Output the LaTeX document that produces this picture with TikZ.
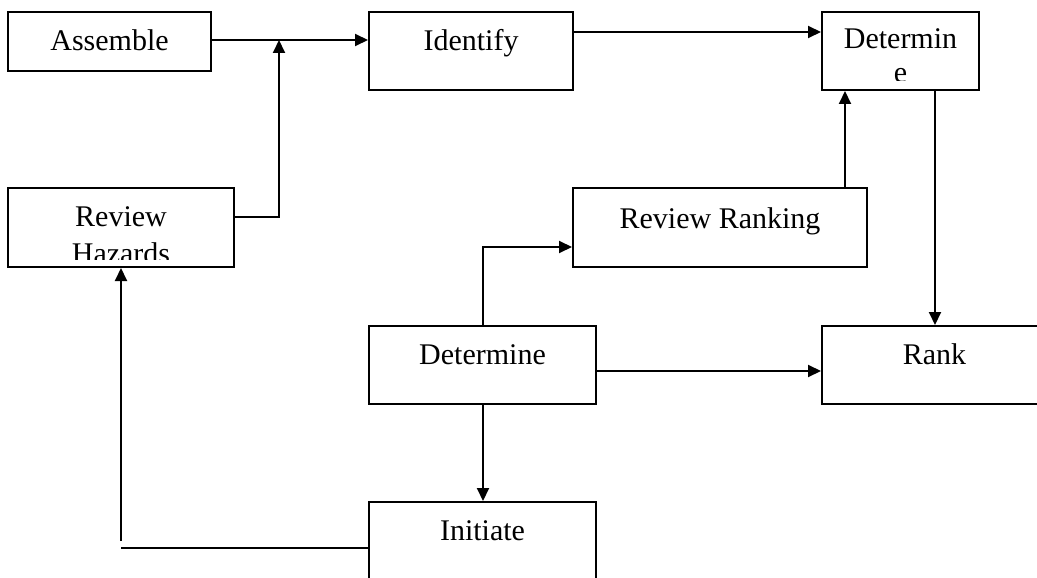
\documentclass[tikz,border=0pt]{standalone}
\usepackage{fontspec}
\setmainfont{Liberation Serif}
\usetikzlibrary{arrows.meta}
\begin{document}
\begin{tikzpicture}[x=1pt,y=-1pt,
  box/.style={draw,line width=2pt,rectangle,inner sep=0pt},
  lbl/.style={anchor=base,inner sep=0pt,font=\fontsize{30}{34}\selectfont},
  conn/.style={line width=2pt},
  arr/.style={conn,-{Triangle[length=13pt,width=12pt]}}]
\useasboundingbox (0,0) rectangle (1037,578);
\clip (0,0) rectangle (1037,578);
% boxes
\node[box,minimum width=203pt,minimum height=59pt] (assemble) at (109.5,41.5) {};
\node[box,minimum width=204pt,minimum height=78pt] (identify) at (471,51) {};
\node[box,minimum width=157pt,minimum height=78pt] (determin) at (900.5,51) {};
\node[box,minimum width=226pt,minimum height=79pt] (hazards) at (121,227.5) {};
\node[box,minimum width=294pt,minimum height=79pt] (ranking) at (720,227.5) {};
\node[box,minimum width=227pt,minimum height=78pt] (determine) at (482.5,365) {};
\node[box,minimum width=225pt,minimum height=78pt] (rank) at (934.5,365) {};
\node[box,minimum width=227pt,minimum height=78pt] (initiate) at (482.5,541) {};
% labels
\node[lbl] (tassemble) at (109.5,51) {Assemble};
\node[lbl] (tidentify) at (471,51) {Identify};
\begin{scope}
  \clip (822,12) rectangle (979,81);
  \node[lbl] (tdet1) at (900.5,49) {Determin};
  \node[lbl] (tdet2) at (900.5,83) {e};
\end{scope}
\begin{scope}
  \clip (8,188) rectangle (234,259);
  \node[lbl] (thaz1) at (121,226) {Review};
  \node[lbl] (thaz2) at (121,263) {Hazards};
\end{scope}
\node[lbl] (tranking) at (720,228) {Review Ranking};
\node[lbl] (tdetermine) at (482.5,364) {Determine};
\node[lbl] (trank) at (934.5,364) {Rank};
\node[lbl] (tinitiate) at (482.5,540) {Initiate};
% connectors
\coordinate (j1) at (279,40);
\coordinate (h1) at (279,217);
\draw[arr] ([yshift=1.5pt]assemble.east) -- ([yshift=11pt]identify.west);
\draw[arr] ([yshift=10.5pt]hazards.east) -- (h1) -- (j1);
\draw[arr] ([yshift=19pt]identify.east) -- ([yshift=19pt]determin.west);
\draw[arr] ([xshift=125pt]ranking.north) -- ([xshift=-55.5pt]determin.south);
\draw[arr] ([xshift=34.5pt]determin.south) -- ([xshift=0.5pt]rank.north);
\draw[arr] ([xshift=0.5pt]determine.north) |- ([yshift=-19.5pt]ranking.west);
\draw[arr] ([yshift=-6pt]determine.east) -- ([yshift=-6pt]rank.west);
\draw[arr] ([xshift=0.5pt]determine.south) -- ([xshift=0.5pt]initiate.north);
\coordinate (e1) at (121,548);
\coordinate (e2) at (121,541);
\draw[conn] ([yshift=-7pt]initiate.west) -- (e1);
\draw[arr] (e2) -- (hazards.south);
\end{tikzpicture}
\end{document}
